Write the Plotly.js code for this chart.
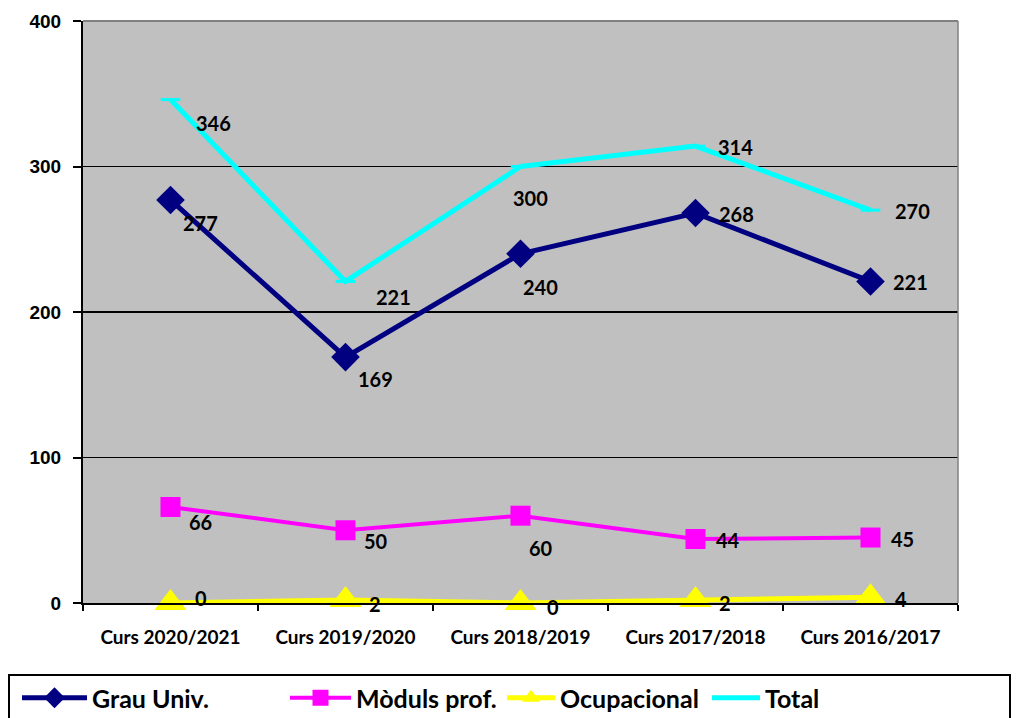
<!DOCTYPE html>
<html>
<head>
<meta charset="utf-8">
<script src="https://cdn.plot.ly/plotly-3.0.1.min.js"></script>
<style>html,body{margin:0;padding:0;background:#fff;}#chart{width:1023px;height:718px;}</style>
</head>
<body>
<div id="chart"></div>
<script>
const categories = ['Curs 2020/2021','Curs 2019/2020','Curs 2018/2019','Curs 2017/2018','Curs 2016/2017'];
const grau = [277,169,240,268,221];
const moduls = [66,50,60,44,45];
const ocupacional = [0,2,0,2,4];
const total = [346,221,300,314,270];
const seriesNames = ['Grau Univ.','Mòduls prof.','Ocupacional','Total'];
const yTicks = [0,100,200,300,400];

// label offsets in screen pixels [dx, dy(down)]
const offGrau = [[30,23],[30,22],[20,33],[41,1],[40,1]];
const offTotal = [[43,23],[48,16],[10,31],[40,1],[42,1]];
const offModuls = [[30,15],[30,11],[20,32],[32,1],[32,1]];
const offOcup = [[30,-5],[29,4],[32,4],[29,3],[30,2]];

const LBL = "Lato, 'Open Sans', sans-serif";

const traces = [
  {x:categories,y:grau,name:seriesNames[0],type:'scatter',mode:'lines+markers',
   line:{color:'#000080',width:5},marker:{symbol:'diamond',size:22,color:'#000080'},legend:'legend'},
  {x:categories,y:moduls,name:seriesNames[1],type:'scatter',mode:'lines+markers',
   line:{color:'#FF00FF',width:4},marker:{symbol:'square',size:20,color:'#FF00FF'},legend:'legend2'},
  {x:categories,y:ocupacional,name:seriesNames[2],type:'scatter',mode:'lines+markers',
   line:{color:'#FFFF00',width:5},marker:{symbol:'triangle-up',size:28,color:'#FFFF00'},legend:'legend3',cliponaxis:false},
  {x:categories,y:total,name:seriesNames[3],type:'scatter',mode:'lines+markers',
   line:{color:'#00FFFF',width:5},marker:{symbol:'line-ew',size:14,color:'#00FFFF',line:{color:'#00FFFF',width:3}},legend:'legend4'}
];

const annotations = [];
function addLabels(vals, offs){
  vals.forEach((v,i)=>{
    annotations.push({x:categories[i],y:v,xref:'x',yref:'y',text:String(v),showarrow:false,
      xshift:offs[i][0],yshift:-offs[i][1],font:{family:LBL,size:20,color:'#000',weight:'bold'}});
  });
}
addLabels(grau,offGrau);
addLabels(total,offTotal);
addLabels(moduls,offModuls);
addLabels(ocupacional,offOcup);

const L = 83, R = 958, T = 21, B = 603;
const W = R-L, H = B-T;
const px = v => (v-L)/W;
const py = v => (B-v)/H;

const legFont = {family:LBL,size:25,color:'#000',weight:'bold'};
function leg(xpx, iw){
  return {orientation:'h',xref:'container',yref:'container',x:xpx/1023,xanchor:'left',
    y:(718-698)/718,yanchor:'middle',
    font:legFont,bgcolor:'rgba(0,0,0,0)',borderwidth:0,itemwidth:iw};
}

const layout = {
  width:1023,height:718,
  margin:{l:L,r:1023-R,t:T,b:718-B,pad:0},
  paper_bgcolor:'#ffffff',plot_bgcolor:'#C0C0C0',
  showlegend:true,
  legend:leg(17,65),legend2:leg(285,61),legend3:leg(502,48),legend4:leg(707,48),
  xaxis:{type:'category',range:[-0.5,4.5],showgrid:false,zeroline:false,automargin:false,
    showline:true,linecolor:'#000',linewidth:2,ticks:'outside',tickson:'boundaries',
    ticklen:6,tickwidth:2,tickcolor:'#000',ticklabelstandoff:16,
    tickfont:{family:LBL,size:19,color:'#000',weight:'bold'}},
  yaxis:{range:[0,400],tickvals:yTicks,showgrid:true,gridcolor:'#000',gridwidth:1.5,automargin:false,
    zeroline:false,showline:true,linecolor:'#000',linewidth:2,ticks:'outside',
    ticklen:8,tickwidth:2,tickcolor:'#000',ticklabelstandoff:8,
    tickfont:{family:"'Liberation Sans', Arial, sans-serif",size:19,color:'#000',weight:'bold'}},
  annotations:annotations,
  shapes:[
    {type:'line',xref:'paper',yref:'paper',x0:0,x1:1,y0:1,y1:1,line:{color:'#808080',width:2}},
    {type:'line',xref:'paper',yref:'paper',x0:1,x1:1,y0:0,y1:1,line:{color:'#808080',width:1.5}},
    {type:'rect',xref:'paper',yref:'paper',x0:px(9),x1:px(1010),y0:py(675),y1:py(740),
     line:{color:'#000',width:2},fillcolor:'rgba(0,0,0,0)'}
  ]
};

Plotly.newPlot('chart',traces,layout,{displayModeBar:false,staticPlot:true});
</script>
</body>
</html>
